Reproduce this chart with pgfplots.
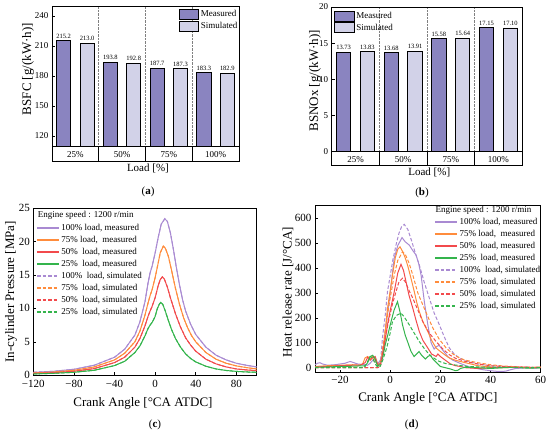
\documentclass[border=0pt]{standalone}
\usepackage{fontspec}
\setmainfont{Liberation Serif}
\usepackage{pgfplots}
\pgfplotsset{compat=1.18}

\definecolor{meas}{HTML}{8A84C0}
\definecolor{sim}{HTML}{D2D2E8}
\definecolor{colP}{HTML}{A98AD2}
\definecolor{colO}{HTML}{FF8C3C}
\definecolor{colR}{HTML}{F24A4C}
\definecolor{colG}{HTML}{34B44C}

\pgfplotsset{
  base/.style={scale only axis, /pgf/number format/assume math mode=true,
    axis line style={line width=0.8pt}, every tick/.style={black, line width=0.6pt},
    tick align=inside, major tick length=3pt},
  barlab/.style={point meta=explicit symbolic, nodes near coords,
    nodes near coords style={font=\fontsize{6.5}{6.5}\selectfont, inner sep=0.8pt, anchor=south, yshift=1.2pt}},
  meas/.style={ybar, bar width=0.3, bar shift=0pt, fill=meas, draw=black, line width=0.9pt, forget plot, barlab},
  sim/.style={ybar, bar width=0.3, bar shift=0pt, fill=sim, draw=black, line width=0.9pt, forget plot, barlab},
  strip/.style={base, xmin=0, xmax=4, ymin=0, ymax=1, ytick=\empty, xtick={1,2,3}, xticklabels={},
    xmajorgrids, grid style={black, line width=0.8pt}, xtick style={draw=none}},
  boxleg/.style={legend image code/.code={\draw[line width=0.9pt, fill=#1] (0pt,-5pt) rectangle (19.5pt,5pt);}},
  curve/.style={base, xtick pos=bottom, ytick pos=left,
    tick label style={font=\fontsize{11}{11}\selectfont},
    label style={font=\fontsize{13}{13}\selectfont},
    legend image code/.code={\draw[##1, line width=1.5pt] (0pt,0pt) -- (21.5pt,0pt);},
    legend cell align=left,
    legend style={draw=none, fill=none, font=\fontsize{9}{9}\selectfont, inner sep=0pt,
      row sep=2pt, column sep=1.5pt, nodes={inner sep=0.5pt, text height=7pt, text depth=2pt}}},
  ms/.style={line width=1pt, draw=#1, color=#1},
  ss/.style={line width=1pt, draw=#1, color=#1, dash pattern=on 3.5pt off 2pt},
}

\begin{document}
\begin{tikzpicture}
\path[use as bounding box] (0pt,0pt) rectangle (550pt,-434pt);

% ---------------- (a) ----------------
\begin{axis}[base, at={(52pt,-146pt)}, anchor=south west, width=187pt, height=140pt,
  xmin=0, xmax=4, ymin=110, ymax=250,
  ytick={120,150,180,210,240}, ytick pos=left,
  xtick={1,2,3}, xticklabels={}, xmajorgrids, grid style={densely dotted, gray, line width=0.6pt},
  xtick style={draw=none},
  tick label style={font=\fontsize{9}{9}\selectfont},
  ylabel={BSFC [g/(kW·h)]},
  ylabel style={at={(axis description cs:-0.128,0.55)}, anchor=center, font=\fontsize{13}{13}\selectfont},
  legend cell align=left,
  legend style={at={(axis description cs:1,1)}, anchor=north east, yshift=-1.8pt, draw=none, fill=none,
    font=\fontsize{9}{9}\selectfont, inner sep=1pt, row sep=0.7pt, column sep=1.4pt, nodes={inner sep=0.5pt}}]
\addplot[meas] coordinates {(0.25,215.2)[215.2] (1.25,193.8)[193.8] (2.25,187.7)[187.7] (3.25,183.3)[183.3]};
\addplot[sim] coordinates {(0.75,213.0)[213.0] (1.75,192.8)[192.8] (2.75,187.3)[187.3] (3.75,182.9)[182.9]};
\addlegendimage{boxleg=meas}
\addlegendentry{Measured}
\addlegendimage{boxleg=sim}
\addlegendentry{Simulated}
\end{axis}
\begin{axis}[strip, at={(52pt,-161pt)}, anchor=south west, width=187pt, height=15pt,
  xlabel={Load [\%]},
  xlabel style={at={(axis description cs:0.513,-0.47)}, anchor=center, font=\fontsize{11}{11}\selectfont}]
\node[font=\fontsize{9}{9}\selectfont] at (axis cs:0.5,0.45) {25\%};
\node[font=\fontsize{9}{9}\selectfont] at (axis cs:1.5,0.45) {50\%};
\node[font=\fontsize{9}{9}\selectfont] at (axis cs:2.5,0.45) {75\%};
\node[font=\fontsize{9}{9}\selectfont] at (axis cs:3.5,0.45) {100\%};
\end{axis}
\node[font=\fontsize{11}{11}\selectfont] at (148pt,-192pt) {({\bfseries a})};

% ---------------- (b) ----------------
\begin{axis}[base, at={(331.7pt,-151.5pt)}, anchor=south west, width=190.6pt, height=144.5pt,
  xmin=0, xmax=4, ymin=0, ymax=20,
  ytick={0,5,10,15,20}, ytick pos=left,
  xtick={1,2,3}, xticklabels={}, xmajorgrids, grid style={densely dotted, gray, line width=0.6pt},
  xtick style={draw=none},
  tick label style={font=\fontsize{9}{9}\selectfont},
  ylabel={BSNOx [g/(kW·h)]},
  ylabel style={at={(axis description cs:-0.088,0.49)}, anchor=center, font=\fontsize{13}{13}\selectfont},
  legend cell align=left,
  legend style={at={(axis description cs:0,1)}, anchor=north west, xshift=1.1pt, yshift=-2.5pt, draw=none, fill=none,
    font=\fontsize{9}{9}\selectfont, inner sep=1pt, row sep=0.7pt, column sep=1.4pt, nodes={inner sep=0.5pt}}]
\addplot[meas] coordinates {(0.25,13.73)[13.73] (1.25,13.68)[13.68] (2.25,15.58)[15.58] (3.25,17.15)[17.15]};
\addplot[sim] coordinates {(0.75,13.83)[13.83] (1.75,13.91)[13.91] (2.75,15.64)[15.64] (3.75,17.10)[17.10]};
\addlegendimage{boxleg=meas}
\addlegendentry{Measured}
\addlegendimage{boxleg=sim}
\addlegendentry{Simulated}
\end{axis}
\begin{axis}[strip, at={(331.7pt,-165.7pt)}, anchor=south west, width=190.6pt, height=14.2pt,
  xlabel={Load [\%]},
  xlabel style={at={(axis description cs:0.512,-0.49)}, anchor=center, font=\fontsize{11}{11}\selectfont}]
\node[font=\fontsize{9}{9}\selectfont] at (axis cs:0.5,0.45) {25\%};
\node[font=\fontsize{9}{9}\selectfont] at (axis cs:1.5,0.45) {50\%};
\node[font=\fontsize{9}{9}\selectfont] at (axis cs:2.5,0.45) {75\%};
\node[font=\fontsize{9}{9}\selectfont] at (axis cs:3.5,0.45) {100\%};
\end{axis}
\node[font=\fontsize{11}{11}\selectfont] at (422pt,-193pt) {({\bfseries b})};

% ---------------- (c) ----------------
\begin{axis}[curve, at={(33.3pt,-375.3pt)}, anchor=south west, width=223.4pt, height=167.3pt,
  xmin=-120, xmax=100, ymin=0, ymax=25,
  xtick={-120,-80,-40,0,40,80}, xticklabels={−120,−80,−40,0,40,80},
  ytick={0,5,10,15,20,25},
  xticklabel style={yshift=-1.5pt},
  xlabel={Crank Angle [°CA ATDC]}, ylabel={In-cylinder Pressure [MPa]},
  xlabel style={at={(axis description cs:0.491,-0.17)}, anchor=center},
  ylabel style={at={(axis description cs:-0.1,0.5)}, anchor=center},
  legend style={at={(axis description cs:0.013,0.913)}, anchor=north west}]
\addplot[ms=colP] coordinates {(-120,0.45) (-100,0.6) (-80,0.9) (-60,1.5) (-40,2.7) (-30,3.9) (-20,6.0) (-15,8.0) (-10,11.0) (-7,13.8) (-5,15.3) (-3,16.3) (0,18.3) (3,20.6) (6,22.6) (9.5,23.4) (12,23.0) (15,21.3) (18,18.8) (21,16.0) (24,13.5) (27,11.3) (30,9.6) (35,7.6) (40,6.1) (50,4.2) (60,3.0) (70,2.3) (80,1.8) (90,1.5) (100,1.25)};
\addlegendentry{100\% load, measured}
\addplot[ms=colO] coordinates {(-120,0.35) (-100,0.5) (-80,0.75) (-60,1.25) (-40,2.3) (-30,3.3) (-20,5.0) (-15,6.6) (-10,9.0) (-7,10.8) (-5,11.9) (-3,12.8) (0,14.6) (3,16.8) (5,18.3) (8,19.3) (10,19.0) (13,17.8) (16,15.8) (20,13.0) (24,10.6) (28,8.6) (32,7.1) (36,5.9) (40,5.0) (50,3.4) (60,2.4) (70,1.8) (80,1.4) (90,1.15) (100,0.95)};
\addlegendentry{75\% load,~ measured}
\addplot[ms=colR] coordinates {(-120,0.3) (-100,0.4) (-80,0.6) (-60,1.0) (-40,1.9) (-30,2.7) (-20,4.2) (-15,5.5) (-10,7.4) (-7,8.8) (-5,9.6) (-3,10.3) (0,11.6) (3,13.4) (5,14.3) (7,14.7) (9,14.4) (12,13.2) (15,11.6) (20,9.2) (25,7.2) (30,5.6) (35,4.5) (40,3.6) (50,2.4) (60,1.7) (70,1.25) (80,0.95) (90,0.8) (100,0.7)};
\addlegendentry{50\%~ load, measured}
\addplot[ms=colG] coordinates {(-120,0.2) (-100,0.3) (-80,0.45) (-60,0.75) (-40,1.45) (-30,2.1) (-20,3.4) (-15,4.4) (-10,5.9) (-7,7.0) (-5,7.5) (-3,7.9) (0,8.8) (2,9.9) (4,10.6) (5.5,10.9) (7.5,10.6) (10,9.6) (13,8.2) (16,6.9) (20,5.5) (25,4.2) (30,3.2) (35,2.5) (40,2.0) (50,1.35) (60,0.95) (70,0.72) (80,0.58) (90,0.5) (100,0.45)};
\addlegendentry{25\%~ load, measured}
\addplot[ss=colP] coordinates {(-120,0.45) (-100,0.6) (-80,0.9) (-60,1.5) (-40,2.7) (-30,3.9) (-20,6.0) (-15,8.0) (-10,11.0) (-7,13.8) (-5,15.3) (-3,16.3) (0,18.3) (3,20.6) (6,22.6) (9.5,23.4) (12,23.0) (15,21.3) (18,18.8) (21,16.0) (24,13.5) (27,11.3) (30,9.6) (35,7.6) (40,6.1) (50,4.2) (60,3.0) (70,2.3) (80,1.8) (90,1.5) (100,1.25)};
\addlegendentry{100\%~ load, simulated}
\addplot[ss=colO] coordinates {(-120,0.35) (-100,0.5) (-80,0.75) (-60,1.25) (-40,2.3) (-30,3.3) (-20,5.0) (-15,6.6) (-10,9.0) (-7,10.8) (-5,11.9) (-3,12.8) (0,14.6) (3,16.8) (5,18.3) (8,19.3) (10,19.0) (13,17.8) (16,15.8) (20,13.0) (24,10.6) (28,8.6) (32,7.1) (36,5.9) (40,5.0) (50,3.4) (60,2.4) (70,1.8) (80,1.4) (90,1.15) (100,0.95)};
\addlegendentry{75\%~ load, simulated}
\addplot[ss=colR] coordinates {(-120,0.3) (-100,0.4) (-80,0.6) (-60,1.0) (-40,1.9) (-30,2.7) (-20,4.2) (-15,5.5) (-10,7.4) (-7,8.8) (-5,9.6) (-3,10.3) (0,11.6) (3,13.4) (5,14.3) (7,14.7) (9,14.4) (12,13.2) (15,11.6) (20,9.2) (25,7.2) (30,5.6) (35,4.5) (40,3.6) (50,2.4) (60,1.7) (70,1.25) (80,0.95) (90,0.8) (100,0.7)};
\addlegendentry{50\%~ load, simulated}
\addplot[ss=colG] coordinates {(-120,0.2) (-100,0.3) (-80,0.45) (-60,0.75) (-40,1.45) (-30,2.1) (-20,3.4) (-15,4.4) (-10,5.9) (-7,7.0) (-5,7.5) (-3,7.9) (0,8.8) (2,9.9) (4,10.6) (5.5,10.9) (7.5,10.6) (10,9.6) (13,8.2) (16,6.9) (20,5.5) (25,4.2) (30,3.2) (35,2.5) (40,2.0) (50,1.35) (60,0.95) (70,0.72) (80,0.58) (90,0.5) (100,0.45)};
\addlegendentry{25\%~ load, simulated}
\node[anchor=west, font=\fontsize{9}{9}\selectfont, inner sep=0pt] at (rel axis cs:0.0197,0.958) {Engine speed : 1200 r/min};
\end{axis}
\node[font=\fontsize{11}{11}\selectfont] at (155pt,-425pt) {({\bfseries c})};

% ---------------- (d) ----------------
\begin{axis}[curve, at={(315pt,-372.7pt)}, anchor=south west, width=225.7pt, height=167pt,
  xmin=-30, xmax=60, ymin=-20, ymax=650,
  xtick={-20,0,20,40,60}, xticklabels={−20,0,20,40,60},
  ytick={0,100,200,300,400,500,600},
  xlabel={Crank Angle [°CA ATDC]}, ylabel={Heat release rate [J/°CA]},
  xlabel style={at={(axis description cs:0.5,-0.156)}, anchor=center},
  ylabel style={at={(axis description cs:-0.12,0.483)}, anchor=center},
  legend style={at={(axis description cs:0.5295,0.933)}, anchor=north west}]
\addplot[ms=colP] coordinates {(-30,12) (-29,18) (-28,20) (-27,15) (-25,10) (-22,12) (-20,15) (-18,18) (-16,25) (-15,22) (-13,15) (-11,13) (-10,12) (-9,10) (-8,18) (-7,30) (-6,25) (-5,15) (-4,30) (-3,60) (-2,145) (-1,220) (0,300) (1,390) (1.6,440) (3,490) (4.7,522) (6,505) (7.6,492) (9,470) (10.3,452) (11.3,420) (12.3,372) (13.6,265) (15,172) (16.3,100) (17.5,75) (18.5,85) (19.5,90) (21,70) (23,44) (25,30) (28,17) (31,5) (34,-2) (37,-8) (40,-12) (43,-15) (46,-14) (48,-8) (50,-3) (55,0) (58,-2) (60,2)};
\addlegendentry{100\% load, measured}
\addplot[ms=colO] coordinates {(-30,5) (-25,8) (-20,10) (-15,12) (-12,10) (-11,15) (-10,40) (-9,45) (-8,35) (-7,45) (-6,30) (-5,10) (-4,20) (-3,60) (-2.4,103) (-1.1,237) (0,310) (0.9,372) (2,440) (3,475) (3.9,485) (5,465) (6,440) (6.9,412) (8,370) (9.6,305) (10.5,265) (11.6,225) (13,185) (15,145) (16.5,110) (18.3,79) (20,65) (22,50) (23.6,39) (26,30) (30,20) (35,8) (40,3) (45,0) (50,2) (55,0) (60,3)};
\addlegendentry{75\% load,~ measured}
\addplot[ms=colR] coordinates {(-30,3) (-25,5) (-20,8) (-15,10) (-12,10) (-10,20) (-9,42) (-8,30) (-7,40) (-6,45) (-5,15) (-4,10) (-3,50) (-2,110) (-1.1,172) (0,230) (1.6,305) (3,380) (4.3,415) (5.3,390) (6.3,345) (7.5,290) (9,239) (10.3,190) (11.6,145) (13,110) (15,79) (16.5,55) (18.3,45) (19,55) (20,45) (22,30) (24,15) (26,8) (28,5) (30,0) (35,-3) (40,0) (50,2) (60,0)};
\addlegendentry{50\%~ load, measured}
\addplot[ms=colG] coordinates {(-30,2) (-25,3) (-20,5) (-15,6) (-10,8) (-9,20) (-8,45) (-7,50) (-6,35) (-5,5) (-4,15) (-3,40) (-2,92) (-1,130) (0,172) (1.5,230) (2.9,265) (4,220) (4.9,172) (6,130) (6.9,105) (8.3,65) (9.5,45) (10.5,55) (11.5,65) (12.5,50) (14,35) (15,45) (16,50) (17,35) (18.5,20) (20,5) (22,0) (24,-5) (26,-12) (27,-10) (28,-3) (30,2) (35,0) (40,-3) (45,0) (50,2) (55,-2) (60,0)};
\addlegendentry{25\%~ load, measured}
\addplot[ss=colP] coordinates {(-30,0) (-10,0) (-5,0) (-4,10) (-3.1,120) (-2,210) (-1.1,305) (0,370) (1,430) (2.3,492) (3.5,540) (4.5,565) (5.6,575) (7,555) (8.5,510) (10,460) (11.6,412) (13.5,345) (15.6,279) (17.5,220) (19.6,172) (21.5,125) (23.6,79) (25.5,55) (27.6,39) (30,28) (35,15) (40,8) (45,5) (50,3) (55,2) (60,1)};
\addlegendentry{100\%~ load, simulated}
\addplot[ss=colO] coordinates {(-30,0) (-5,0) (-4,5) (-3,80) (-2,150) (-1.1,212) (0,280) (1.6,372) (3,430) (4.9,465) (6,455) (7.5,420) (9,372) (11,300) (13,252) (15,205) (17,159) (19.5,115) (22.3,79) (25,55) (27.6,39) (30,30) (35,20) (40,12) (45,7) (50,4) (55,2) (60,1)};
\addlegendentry{75\%~ load, simulated}
\addplot[ss=colR] coordinates {(-30,0) (-5,0) (-4,5) (-3,60) (-2,120) (-0.4,199) (1,260) (2.3,305) (3.5,345) (4.9,359) (6,345) (7.5,310) (9,279) (11,232) (13,185) (15.5,140) (18.3,105) (21,75) (23.6,52) (26,38) (30,25) (35,15) (40,8) (45,5) (50,3) (60,1)};
\addlegendentry{50\%~ load, simulated}
\addplot[ss=colG] coordinates {(-30,0) (-11,0) (-10,5) (-9,25) (-8,45) (-7,40) (-6,15) (-5,2) (-4,5) (-3,30) (-2,60) (-1.1,92) (0,140) (0.9,185) (2.5,210) (4.3,219) (5.5,205) (7.6,172) (9.5,140) (11.6,105) (13.5,78) (15.6,52) (17.5,38) (19.6,25) (22,17) (25,12) (30,6) (35,3) (40,2) (50,1) (60,0)};
\addlegendentry{25\%~ load, simulated}
\node[anchor=east, font=\fontsize{9}{9}\selectfont, inner sep=0pt] at (rel axis cs:0.96,0.97) {Engine speed : 1200 r/min};
\end{axis}
\node[font=\fontsize{11}{11}\selectfont] at (411.7pt,-425pt) {({\bfseries d})};

\end{tikzpicture}
\end{document}
